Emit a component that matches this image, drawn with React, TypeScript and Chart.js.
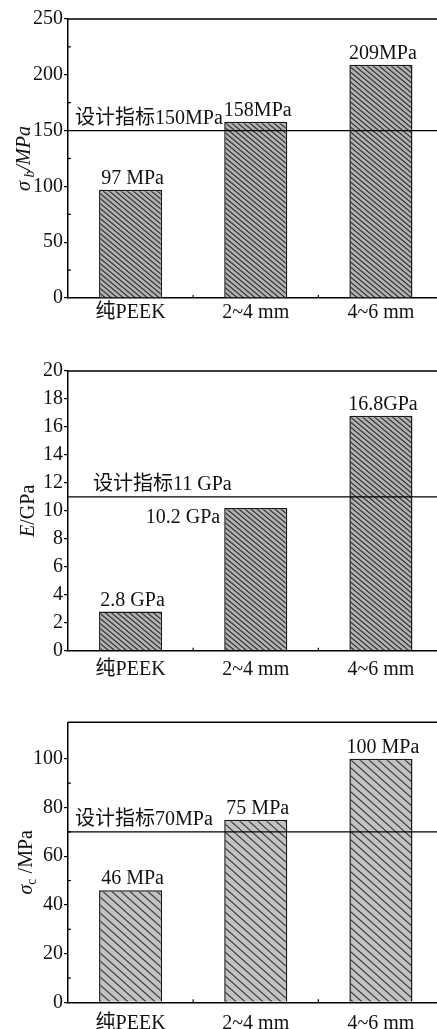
import React, { useEffect, useRef } from 'react';
import { Chart, registerables } from 'chart.js';

Chart.register(...registerables);

const categories = ['纯PEEK', '2~4 mm', '4~6 mm'];

const tensileValues = [97, 158, 209];
const tensileLabels = ['97 MPa', '158MPa', '209MPa'];
const tensileTarget = 150;
const tensileTargetLabel = '设计指标150MPa';
const tensileTicks = [0, 50, 100, 150, 200, 250];

const modulusValues = [2.8, 10.2, 16.8];
const modulusLabels = ['2.8 GPa', '10.2 GPa', '16.8GPa'];
const modulusTarget = 11;
const modulusTargetLabel = '设计指标11 GPa';
const modulusTicks = [0, 2, 4, 6, 8, 10, 12, 14, 16, 18, 20];

const compValues = [46, 75, 100];
const compLabels = ['46 MPa', '75 MPa', '100 MPa'];
const compTarget = 70;
const compTargetLabel = '设计指标70MPa';
const compTicks = [0, 20, 40, 60, 80, 100];

const FAMILY = "'Liberation Serif', 'Times New Roman', 'Noto Sans CJK SC', serif";

type TitlePart = { t: string; italic?: boolean; sub?: boolean };

interface PanelCfg {
  top: number;
  height: number;
  padTop: number;
  axisH: number;
  values: number[];
  labels: string[];
  target: number;
  targetLabel: string;
  targetDx: number;
  ticks: number[];
  max: number;
  minor: boolean;
  sides: string[];
  title: TitlePart[];
  titleX: number;
  xPad: number;
  hatch: { w: number; h: number; bg: string; fg: string; lw: number };
}

const panels: PanelCfg[] = [
  {
    top: 0, height: 328, padTop: 19, axisH: 30,
    values: tensileValues, labels: tensileLabels, target: tensileTarget,
    targetLabel: tensileTargetLabel, targetDx: 7, ticks: tensileTicks, max: 250,
    minor: true, sides: ['top', 'top', 'top'],
    title: [{ t: 'σ', italic: true }, { t: ' b', italic: true, sub: true }, { t: '/MPa', italic: true }],
    titleX: 23, xPad: 3,
    hatch: { w: 6, h: 5, bg: '#b2b2b2', fg: '#2a2a2a', lw: 1.1 },
  },
  {
    top: 330, height: 350, padTop: 41, axisH: 29.3,
    values: modulusValues, labels: modulusLabels, target: modulusTarget,
    targetLabel: modulusTargetLabel, targetDx: 25, ticks: modulusTicks, max: 20,
    minor: false, sides: ['top', 'left', 'top'],
    title: [{ t: 'E', italic: true }, { t: '/GPa' }],
    titleX: 27, xPad: 7,
    hatch: { w: 6, h: 5, bg: '#b2b2b2', fg: '#2a2a2a', lw: 1.1 },
  },
  {
    top: 680, height: 349, padTop: 42.3, axisH: 26.7,
    values: compValues, labels: compLabels, target: compTarget,
    targetLabel: compTargetLabel, targetDx: 7, ticks: compTicks, max: 115,
    minor: true, sides: ['top', 'top', 'top'],
    title: [{ t: 'σ', italic: true }, { t: 'c', sub: true }, { t: ' /MPa' }],
    titleX: 25, xPad: 9,
    hatch: { w: 9, h: 8, bg: '#c2c2c2', fg: '#333333', lw: 1.1 },
  },
];

function makeHatch(ctx: CanvasRenderingContext2D, h: PanelCfg['hatch']) {
  const c = document.createElement('canvas');
  c.width = h.w;
  c.height = h.h;
  const g = c.getContext('2d')!;
  g.fillStyle = h.bg;
  g.fillRect(0, 0, h.w, h.h);
  g.strokeStyle = h.fg;
  g.lineWidth = h.lw;
  const s = h.h / h.w;
  for (let k = -1; k <= 1; k++) {
    g.beginPath();
    g.moveTo(-2, s * -2 + k * h.h);
    g.lineTo(h.w + 2, s * (h.w + 2) + k * h.h);
    g.stroke();
  }
  return ctx.createPattern(c, 'repeat')!;
}

function drawTitle(ctx: CanvasRenderingContext2D, parts: TitlePart[], cx: number, cy: number) {
  const fontFor = (p: TitlePart) => `${p.italic ? 'italic ' : ''}${p.sub ? 14 : 20}px ${FAMILY}`;
  let total = 0;
  const widths = parts.map((p) => {
    ctx.font = fontFor(p);
    const w = ctx.measureText(p.t).width;
    total += w;
    return w;
  });
  ctx.save();
  ctx.translate(cx, cy);
  ctx.rotate(-Math.PI / 2);
  ctx.textAlign = 'left';
  ctx.textBaseline = 'alphabetic';
  ctx.fillStyle = '#111';
  let x = -total / 2;
  parts.forEach((p, i) => {
    ctx.font = fontFor(p);
    ctx.fillText(p.t, x, p.sub ? 11 : 6.5);
    x += widths[i];
  });
  ctx.restore();
}

function Panel({ cfg }: { cfg: PanelCfg }) {
  const ref = useRef<HTMLCanvasElement>(null);
  useEffect(() => {
    const canvas = ref.current!;
    const ctx = canvas.getContext('2d')!;
    const pattern = makeHatch(ctx, cfg.hatch);
    const annot = {
      id: 'annot',
      afterDatasetsDraw(chart: any) {
        const { ctx, chartArea, scales } = chart;
        const y = scales.y;
        ctx.save();
        ctx.strokeStyle = '#000';
        ctx.lineWidth = 1.5;
        ctx.beginPath();
        ctx.moveTo(chartArea.left, chartArea.top);
        ctx.lineTo(chartArea.right, chartArea.top);
        ctx.stroke();

        const yr = y.getPixelForValue(cfg.target);
        ctx.lineWidth = 1.3;
        ctx.beginPath();
        ctx.moveTo(chartArea.left, yr);
        ctx.lineTo(chartArea.right, yr);
        ctx.stroke();

        ctx.fillStyle = '#111';
        ctx.font = `20px ${FAMILY}`;
        ctx.textBaseline = 'alphabetic';
        ctx.textAlign = 'left';
        ctx.fillText(cfg.targetLabel, chartArea.left + cfg.targetDx, yr - 7);

        const meta = chart.getDatasetMeta(0);
        meta.data.forEach((bar: any, i: number) => {
          const p = bar.getProps(['x', 'y', 'width'], true);
          if (cfg.sides[i] === 'left') {
            ctx.textAlign = 'right';
            ctx.fillText(cfg.labels[i], p.x - p.width / 2 - 4, p.y + 15);
          } else {
            ctx.textAlign = 'center';
            ctx.fillText(cfg.labels[i], p.x + 2, p.y - 6);
          }
        });

        ctx.lineWidth = 1.2;
        if (cfg.minor) {
          for (let k = 0; k < cfg.ticks.length - 1; k++) {
            const v = (cfg.ticks[k] + cfg.ticks[k + 1]) / 2;
            const py = y.getPixelForValue(v);
            ctx.beginPath();
            ctx.moveTo(chartArea.left, py);
            ctx.lineTo(chartArea.left + 3, py);
            ctx.stroke();
          }
        }
        const cw = (chartArea.right - chartArea.left) / categories.length;
        for (let k = 1; k < categories.length; k++) {
          const px = chartArea.left + cw * k;
          ctx.beginPath();
          ctx.moveTo(px, chartArea.bottom);
          ctx.lineTo(px, chartArea.bottom - 3);
          ctx.stroke();
        }
        ctx.restore();

        drawTitle(ctx, cfg.title, cfg.titleX, (chartArea.top + chartArea.bottom) / 2);
      },
    };

    const chart = new Chart(canvas, {
      type: 'bar',
      data: {
        labels: categories,
        datasets: [
          {
            data: cfg.values,
            backgroundColor: pattern,
            borderColor: '#1a1a1a',
            borderWidth: { top: 1.5, left: 1.5, right: 1.5, bottom: 0 },
            borderSkipped: false,
            barPercentage: 0.504,
            categoryPercentage: 1,
          },
        ],
      },
      options: {
        responsive: false,
        animation: false,
        devicePixelRatio: 1,
        layout: { padding: { top: cfg.padTop, left: 0, right: 8.5, bottom: 0 } },
        plugins: { legend: { display: false }, tooltip: { enabled: false } },
        scales: {
          x: {
            grid: { display: false, drawTicks: false },
            border: { display: true, color: '#000', width: 1.5 },
            ticks: {
              color: '#111',
              padding: cfg.xPad,
              font: { family: FAMILY, size: 20 },
              maxRotation: 0,
              autoSkip: false,
            },
            afterFit: (s: any) => {
              s.height = cfg.axisH;
            },
          },
          y: {
            min: 0,
            max: cfg.max,
            grid: {
              display: true,
              drawOnChartArea: false,
              drawTicks: true,
              tickLength: 4,
              tickColor: '#000',
              color: '#000',
              lineWidth: 1.2,
            },
            border: { display: true, color: '#000', width: 1.5 },
            ticks: {
              color: '#111',
              padding: 1,
              font: { family: FAMILY, size: 20 },
            },
            afterBuildTicks: (s: any) => {
              s.ticks = cfg.ticks.map((v) => ({ value: v }));
            },
            afterFit: (s: any) => {
              s.width = 68;
            },
          },
        },
      },
      plugins: [annot],
    } as any);
    return () => chart.destroy();
  }, [cfg]);

  return (
    <div style={{ position: 'absolute', left: 0, top: cfg.top, width: 452, height: cfg.height }}>
      <canvas ref={ref} width={452} height={cfg.height} style={{ display: 'block', width: 452, height: cfg.height }} />
    </div>
  );
}

export default function App() {
  return (
    <div
      style={{
        position: 'absolute',
        left: 0,
        top: 0,
        width: 437,
        height: 1029,
        overflow: 'hidden',
        background: '#fff',
      }}
    >
      {panels.map((p, i) => (
        <Panel key={i} cfg={p} />
      ))}
    </div>
  );
}
